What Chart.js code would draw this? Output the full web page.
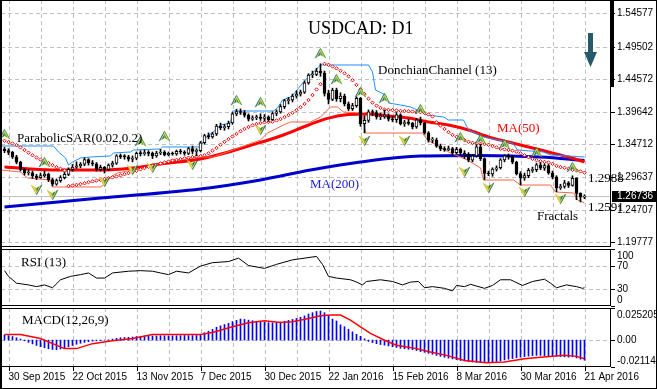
<!DOCTYPE html>
<html>
<head>
<meta charset="utf-8">
<title>USDCAD: D1</title>
<script src="https://cdn.jsdelivr.net/npm/chart.js@4.4.1/dist/chart.umd.min.js"></script>
<style>
  html, body { margin: 0; padding: 0; background: #fff; }
  #chart { position: relative; width: 657px; height: 389px; overflow: hidden; background: #fff; }
  #chart canvas { position: absolute; left: 0; }
  #frame { position: absolute; left: 0; top: 0; width: 657px; height: 389px; box-sizing: border-box;
           border: 1px solid #000; border-left-width: 2px; pointer-events: none; z-index: 10; }
</style>
</head>
<body>
<div id="chart">
  <canvas id="macdPanel" width="657" height="82" style="top:307px;z-index:1"></canvas>
  <canvas id="rsiPanel" width="657" height="59" style="top:248px;z-index:2"></canvas>
  <canvas id="pricePanel" width="657" height="250" style="top:0;z-index:3"></canvas>
  <div id="frame"></div>
</div>
<script>
// bar 0 = 29 Sep 2015 ... bar 145 = 21 Apr 2016 (daily bars)
const dateLabels = ['30 Sep 2015', '22 Oct 2015', '13 Nov 2015', '7 Dec 2015', '30 Dec 2015',
                    '22 Jan 2016', '15 Feb 2016', '8 Mar 2016', '30 Mar 2016', '21 Apr 2016'];
const dateLabelBars = [1, 17, 33, 49, 65, 81, 97, 113, 129, 145];

const firstOpen = 1.3395;
const closes = [
  1.3370,1.3345,1.3275,1.3195,1.3085,1.3030,1.3035,1.2985,1.2960,1.2990,
  1.3010,1.2930,1.2860,1.2915,1.2960,1.3010,1.3085,1.3120,1.3140,1.3165,
  1.3235,1.3185,1.3170,1.3085,1.3115,1.3085,1.3150,1.3180,1.3290,1.3280,
  1.3275,1.3240,1.3255,1.3330,1.3325,1.3335,1.3330,1.3290,1.3335,1.3350,
  1.3310,1.3330,1.3320,1.3360,1.3350,1.3330,1.3400,1.3360,1.3370,1.3490,
  1.3600,1.3580,1.3625,1.3745,1.3720,1.3735,1.3790,1.3930,1.3965,1.3950,
  1.3910,1.3850,1.3870,1.3880,1.3860,1.3885,1.3840,1.3935,1.3960,1.4040,
  1.4130,1.4140,1.4200,1.4230,1.4260,1.4400,1.4520,1.4530,1.4580,1.4550,
  1.4240,1.4150,1.4290,1.4160,1.4200,1.4080,1.4010,1.4055,1.4165,1.3780,
  1.3830,1.3960,1.3950,1.3885,1.3890,1.3900,1.3850,1.3840,1.3915,1.3780,
  1.3790,1.3785,1.3730,1.3840,1.3790,1.3640,1.3530,1.3530,1.3440,1.3400,
  1.3385,1.3400,1.3340,1.3390,1.3335,1.3320,1.3225,1.3290,1.3430,1.3250,
  1.3025,1.3015,1.3090,1.3110,1.3230,1.3290,1.3280,1.3195,1.3020,1.2955,
  1.2990,1.3070,1.3080,1.3155,1.3105,1.3145,1.3030,1.2970,1.2805,1.2825,
  1.2880,1.2840,1.2950,1.2720,1.2665,1.26736
];
const highs = [
  1.3420,1.3400,1.3360,1.3300,1.3210,1.3100,1.3080,1.3060,1.3010,1.3030,
  1.3060,1.3030,1.2950,1.2940,1.2990,1.3040,1.3110,1.3160,1.3200,1.3190,
  1.3260,1.3250,1.3220,1.3190,1.3150,1.3130,1.3170,1.3210,1.3310,1.3320,
  1.3310,1.3300,1.3290,1.3350,1.3370,1.3380,1.3370,1.3350,1.3360,1.3390,
  1.3370,1.3350,1.3350,1.3380,1.3390,1.3370,1.3420,1.3440,1.3400,1.3510,
  1.3620,1.3640,1.3650,1.3770,1.3790,1.3770,1.3820,1.3950,1.4000,1.4005,
  1.3980,1.3930,1.3900,1.3910,1.3930,1.3920,1.3900,1.3960,1.3990,1.4070,
  1.4150,1.4180,1.4230,1.4280,1.4290,1.4430,1.4540,1.4580,1.4620,1.4690,
  1.4580,1.4290,1.4320,1.4320,1.4250,1.4230,1.4110,1.4090,1.4190,1.4180,
  1.3900,1.3990,1.3990,1.3980,1.3940,1.3990,1.3930,1.3890,1.3950,1.3930,
  1.3830,1.3850,1.3800,1.3860,1.3880,1.3800,1.3660,1.3570,1.3560,1.3470,
  1.3430,1.3440,1.3420,1.3420,1.3410,1.3370,1.3340,1.3310,1.3460,1.3470,
  1.3260,1.3060,1.3110,1.3140,1.3250,1.3310,1.3320,1.3300,1.3210,1.3050,
  1.3030,1.3100,1.3120,1.3180,1.3190,1.3170,1.3160,1.3060,1.2990,1.2860,
  1.2920,1.2900,1.2988,1.2960,1.2730,1.2700
];
const lows = [
  1.3340,1.3310,1.3250,1.3170,1.3060,1.3000,1.3000,1.2950,1.2930,1.2950,
  1.2970,1.2900,1.2832,1.2845,1.2890,1.2940,1.2990,1.3060,1.3100,1.3110,
  1.3140,1.3150,1.3140,1.3060,1.3060,1.3030,1.3070,1.3120,1.3160,1.3250,
  1.3240,1.3210,1.3200,1.3230,1.3290,1.3300,1.3290,1.3250,1.3270,1.3310,
  1.3290,1.3290,1.3300,1.3300,1.3320,1.3300,1.3310,1.3320,1.3290,1.3350,
  1.3470,1.3550,1.3560,1.3600,1.3690,1.3680,1.3700,1.3770,1.3900,1.3920,
  1.3880,1.3820,1.3830,1.3840,1.3830,1.3820,1.3815,1.3830,1.3900,1.3940,
  1.4010,1.4080,1.4110,1.4170,1.4200,1.4240,1.4380,1.4480,1.4510,1.4500,
  1.4200,1.4080,1.4130,1.4120,1.4110,1.4050,1.3980,1.3980,1.4030,1.3740,
  1.3640,1.3800,1.3900,1.3850,1.3840,1.3860,1.3820,1.3810,1.3800,1.3760,
  1.3740,1.3760,1.3700,1.3710,1.3760,1.3620,1.3500,1.3490,1.3420,1.3370,
  1.3360,1.3370,1.3310,1.3320,1.3300,1.3250,1.3200,1.3200,1.3270,1.3220,
  1.2930,1.2990,1.2980,1.3060,1.3090,1.3200,1.3240,1.3170,1.3000,1.2850,
  1.2920,1.2960,1.3040,1.3050,1.3080,1.3070,1.3010,1.2940,1.2745,1.2780,
  1.2800,1.2810,1.2830,1.2625,1.2591,1.2640
];

// Parabolic SAR (0.02, 0.2), one dot per bar
const sar = [
  1.3520,1.3500,1.3480,1.3455,1.3420,1.3380,1.3340,1.3300,1.3265,1.3235,
  1.3205,1.3180,1.3150,1.3120,1.3095,1.3070,1.2832,1.2840,1.2850,1.2862,
  1.2875,1.2890,1.2903,1.2915,1.2927,1.2940,1.2952,1.2964,1.2978,1.2995,
  1.3012,1.3030,1.3047,1.3065,1.3085,1.3105,1.3125,1.3142,1.3158,1.3175,
  1.3190,1.3205,1.3218,1.3230,1.3242,1.3253,1.3263,1.3273,1.3282,1.3285,
  1.3300,1.3330,1.3370,1.3410,1.3460,1.3505,1.3545,1.3585,1.3625,1.3665,
  1.3700,1.3730,1.3755,1.3775,1.3790,1.3800,1.3805,1.3810,1.3830,1.3850,
  1.3880,1.3910,1.3945,1.3985,1.4030,1.4080,1.4140,1.4215,1.4300,1.4380,
  1.4690,1.4675,1.4650,1.4620,1.4585,1.4545,1.4500,1.4440,1.4370,1.4300,
  1.4230,1.4160,1.4100,1.4055,1.4020,1.3995,1.3990,1.3985,1.3980,1.3975,
  1.3972,1.3968,1.3964,1.3960,1.3955,1.3945,1.3920,1.3890,1.3800,1.3750,
  1.3700,1.3650,1.3610,1.3580,1.3555,1.3530,1.3505,1.3490,1.3480,1.3475,
  1.3470,1.3460,1.3440,1.3420,1.3400,1.3390,1.3380,1.3370,1.3355,1.3330,
  1.3300,1.3270,1.3245,1.3225,1.3210,1.3200,1.3190,1.3170,1.3140,1.3120,
  1.3110,1.3095,1.3080,1.3070,1.3055,1.3035
];

// moving averages and Donchian channel, [bar, price]
const ma50 = [[0,1.3120],[12,1.3076],[24,1.3076],[32,1.3107],[39,1.3167],[49,1.3243],[56,1.3350],
  [61,1.3441],[69,1.3593],[76,1.3760],[81,1.3865],[86,1.3918],[91,1.3927],[96,1.3897],[101,1.3865],
  [106,1.3806],[111,1.3760],[116,1.3684],[121,1.3578],[126,1.3502],[131,1.3426],[136,1.3350],
  [141,1.3274],[145,1.3198]];
const ma200 = [[0,1.2514],[24,1.2651],[49,1.2788],[64,1.2925],[76.5,1.3076],[89,1.3198],
  [104,1.3289],[119,1.3297],[134,1.3274],[145,1.3221]];
const donchianUpper = [[-1,1.3441],[12.25,1.3441],[13.5,1.3350],[15.25,1.3259],[16,1.3152],[17,1.3198],
  [19,1.3259],[21.5,1.3274],[26.5,1.3289],[27.25,1.3335],[31.5,1.3350],[32.25,1.3380],[39,1.3396],
  [39.5,1.3426],[49,1.3426],[49.5,1.3487],[50.25,1.3563],[52.75,1.3684],[54,1.3760],[56.5,1.3791],
  [57,1.3973],[67.25,1.3973],[68.25,1.4019],[69.5,1.4140],[71.5,1.4186],[72.75,1.4262],[74.75,1.4414],
  [76.5,1.4520],[77.75,1.4596],[79,1.4672],[91,1.4672],[92,1.4566],[92.75,1.4292],[95.25,1.4216],
  [96,1.4095],[99,1.4064],[101.5,1.4034],[103.25,1.3988],[105.75,1.3912],[109.75,1.3882],[111,1.3836],
  [114.75,1.3836],[116,1.3684],[119.75,1.3578],[123.25,1.3532],[127,1.3487],[128.25,1.3380],
  [134.75,1.3350],[136.5,1.3305],[145,1.3274]];
const donchianLower = [[-1,1.3076],[4,1.3046],[5.75,1.2955],[11.5,1.2924],[12,1.2818],[24,1.2818],
  [24.75,1.2848],[26.5,1.2970],[28.25,1.3031],[32,1.3076],[35.75,1.3122],[39,1.3152],[41.5,1.3228],
  [49,1.3274],[52.25,1.3274],[64,1.3532],[65.75,1.3638],[69.75,1.3760],[71.5,1.3806],[76.5,1.3806],
  [79,1.3882],[81.5,1.4034],[83.25,1.4034],[84.75,1.3958],[89,1.3943],[89.5,1.3912],[90.25,1.3638],
  [104.5,1.3638],[105.75,1.3532],[111.5,1.3335],[115.75,1.3228],[119,1.3107],[119.75,1.2924],
  [127.25,1.2924],[129,1.2848],[136.5,1.2848],[137.75,1.2742],[142.25,1.2727],[143.25,1.2621],
  [145,1.2575]];

// fractal markers, [bar, price of the arrow]
const fractalsUp = [[0,1.3623],[10,1.3198],[34,1.3517],[40,1.3593],[58,1.4140],[64,1.4110],
  [79,1.4854],[83,1.4459],[89,1.4262],[95,1.4170],[104,1.4003],[114,1.3578],[119,1.3548],
  [125,1.3472],[133,1.3350],[142,1.3122]];
const fractalsDown = [[8,1.2772],[12,1.2696],[25,1.2894],[32,1.3076],[37,1.3107],[47,1.3153],
  [64,1.3684],[90,1.3517],[100,1.3517],[115,1.3046],[121,1.2802],[130,1.2742],[139,1.2635]];

// RSI(13), [bar, value]
const rsi = [[0,62],[1,52],[3,40],[6,37],[8,34],[10,37],[12,32],[14,46],[16.5,52],[19,55],[21,58],
  [23,49],[25,49],[27,58],[31,61],[34,62],[37,61],[39,58],[41,55],[43,61],[46,58],[49,70],[52,76],
  [56,78],[58.5,84],[61,71],[65,66],[68,73],[72,81],[78,87],[79.5,73],[81,52],[83,49],[86.5,46],
  [88,42],[89.5,37],[90.5,43],[94,46],[97,43],[99.5,37],[101.5,42],[103.5,43],[105,32],[107,34],
  [110,31],[112,26.5],[113,36],[115,34],[116.5,38],[120,31],[122,36],[124,46],[126.5,46],
  [129.5,36],[132,43],[135,47],[136.5,40],[138,32],[140.5,37],[143,34],[144.5,31],[145,32]];

// MACD(12,26,9): histogram per bar, signal as [bar, value]
const macdHist = [
  0.0040,0.0035,0.0028,0.0018,0.0008,-0.0005,-0.0018,-0.0030,-0.0042,-0.0052,
  -0.0060,-0.0068,-0.0074,-0.0076,-0.0070,-0.0062,-0.0052,-0.0042,-0.0033,-0.0025,
  -0.0018,-0.0012,-0.0008,-0.0006,-0.0004,-0.0001,0.0002,0.0008,0.0014,0.0018,
  0.0020,0.0022,0.0024,0.0028,0.0030,0.0032,0.0033,0.0032,0.0033,0.0034,
  0.0034,0.0033,0.0033,0.0034,0.0034,0.0036,0.0035,0.0035,0.0036,0.0045,
  0.0058,0.0070,0.0085,0.0100,0.0112,0.0122,0.0132,0.0145,0.0155,0.0165,
  0.0162,0.0157,0.0152,0.0148,0.0144,0.0140,0.0137,0.0136,0.0138,0.0142,
  0.0148,0.0155,0.0162,0.0170,0.0180,0.0190,0.0205,0.0215,0.0225,0.0228,
  0.0215,0.0190,0.0165,0.0150,0.0120,0.0105,0.0085,0.0065,0.0045,0.0030,
  0.0010,-0.0010,-0.0020,-0.0028,-0.0035,-0.0040,-0.0046,-0.0052,-0.0058,-0.0064,
  -0.0068,-0.0072,-0.0075,-0.0082,-0.0090,-0.0096,-0.0104,-0.0112,-0.0120,-0.0128,
  -0.0135,-0.0142,-0.0148,-0.0154,-0.0160,-0.0164,-0.0170,-0.0172,-0.0175,-0.0176,
  -0.0178,-0.0176,-0.0172,-0.0168,-0.0162,-0.0156,-0.0150,-0.0145,-0.0138,-0.0134,
  -0.0130,-0.0126,-0.0122,-0.0120,-0.0120,-0.0122,-0.0124,-0.0125,-0.0128,-0.0130,
  -0.0132,-0.0134,-0.0132,-0.0140,-0.0150,-0.0158
];
const macdSignal = [[0,0.0044],[4,0.0044],[9,0.0012],[15,-0.0067],[18,-0.0067],[22,-0.0028],
  [26.5,-0.0007],[32,0.0012],[37,0.0044],[49,0.0044],[52,0.0060],[57,0.0104],[61,0.0136],
  [65,0.0152],[69,0.0139],[72,0.0144],[76,0.0170],[79,0.0191],[81.5,0.0197],[84,0.0197],
  [86.5,0.0157],[89,0.0104],[91.5,0.0052],[95,-0.0001],[98,-0.0041],[103,-0.0067],[106.5,-0.0094],
  [110.5,-0.0120],[115,-0.0160],[120.5,-0.0178],[125,-0.0173],[130,-0.0146],[134,-0.0134],
  [140,-0.0120],[143,-0.0128],[145,-0.0146]];

const priceTicks = [1.54577, 1.49502, 1.44572, 1.39642, 1.34712, 1.29637, 1.24707, 1.19777];
const rsiTicks = [0, 30, 70, 100];
const macdTicks = [-0.021146, 0, 0.025205];

// ---- presentation ----
const X_MIN = -0.875, X_MAX = 151.625;   // empty chart shift on the right
const GRID = '#c0c0c0';
const LABEL_FONT = '10px "Liberation Sans", Arial, sans-serif';
const NOTE_FONT = '13px "Liberation Serif", "Times New Roman", serif';

const opens = closes.map((c, i) => i === 0 ? firstOpen : closes[i - 1]);
const pts = arr => arr.map(([x, y]) => ({ x, y }));

// scales only map values; grid, ticks and labels are painted by the "axes" plugin below
const xAxis = (height) => ({
  type: 'linear', min: X_MIN, max: X_MAX, offset: false,
  afterBuildTicks: s => {
    s.ticks = [];
    for (let v = 1; v <= X_MAX; v += 8) s.ticks.push({ value: v });
  },
  afterFit: s => { s.height = height; },
  border: { display: false }, grid: { display: false, offset: false }, ticks: { display: false }
});
const yAxis = (min, max, values) => ({
  position: 'right', min, max,
  afterBuildTicks: s => { s.ticks = values.map(v => ({ value: v })); },
  afterFit: s => { s.width = 46; },
  border: { display: false }, grid: { display: false }, ticks: { display: false }
});

const axes = {
  id: 'axes',
  beforeDatasetsDraw(chart, args, opts) {
    const { ctx, chartArea: a, scales: { x, y } } = chart;
    ctx.save();
    ctx.strokeStyle = GRID;
    ctx.lineWidth = 1;
    ctx.setLineDash([4, 3]);
    ctx.beginPath();
    x.ticks.forEach(t => {
      const px = Math.round(x.getPixelForValue(t.value)) + 0.5;
      ctx.moveTo(px, a.top); ctx.lineTo(px, a.bottom);
    });
    y.ticks.forEach(t => {
      if (opts.noGrid && opts.noGrid.includes(t.value)) return;
      const py = Math.round(y.getPixelForValue(t.value)) + 0.5;
      ctx.moveTo(a.left, py); ctx.lineTo(a.right, py);
    });
    ctx.stroke();
    ctx.restore();
  },
  afterDraw(chart, args, opts) {
    const { ctx, chartArea: a, scales: { x, y } } = chart;
    ctx.save();
    ctx.strokeStyle = '#000';
    ctx.fillStyle = '#000';
    ctx.lineWidth = 1;
    ctx.font = LABEL_FONT;
    ctx.textAlign = 'left';
    ctx.beginPath();
    y.ticks.forEach(t => {
      const py = Math.round(y.getPixelForValue(t.value)) + 0.5;
      ctx.moveTo(a.right, py); ctx.lineTo(a.right + 4, py);
      const text = opts.format(t.value);
      if (t.value === y.max && opts.insetEnds) { ctx.textBaseline = 'top'; ctx.fillText(text, a.right + 6, a.top + 2); }
      else if (t.value === y.min && opts.insetEnds) { ctx.textBaseline = 'bottom'; ctx.fillText(text, a.right + 6, a.bottom - 1); }
      else { ctx.textBaseline = 'middle'; ctx.fillText(text, a.right + 6, py); }
    });
    if (opts.dates) {
      ctx.textBaseline = 'middle';
      dateLabelBars.forEach((b, k) => {
        const px = Math.round(x.getPixelForValue(b)) + 0.5;
        ctx.moveTo(px, a.bottom); ctx.lineTo(px, a.bottom + 4);
        ctx.fillText(dateLabels[k], px - 1, a.bottom + 10);
      });
    }
    ctx.stroke();
    ctx.restore();
  }
};

const panelFrame = {
  id: 'panelFrame',
  afterDraw(chart) {
    const { ctx, chartArea: a } = chart;
    ctx.save();
    ctx.strokeStyle = '#000';
    ctx.lineWidth = 1;
    ctx.strokeRect(Math.round(a.left) + 0.5, Math.round(a.top) + 0.5,
                   Math.round(a.right - a.left) - 1, Math.round(a.bottom - a.top) - 1);
    ctx.restore();
  }
};

const notes = {
  id: 'notes',
  afterDatasetsDraw(chart, args, opts) {
    const ctx = chart.ctx;
    ctx.save();
    ctx.textBaseline = 'alphabetic';
    ctx.textAlign = 'left';
    (opts.items || []).forEach(n => {
      ctx.font = n.font || NOTE_FONT;
      ctx.fillStyle = n.color || '#000';
      ctx.fillText(n.text, n.x, n.y);
    });
    ctx.restore();
  }
};

const priceExtras = {
  id: 'priceExtras',
  afterDraw(chart) {
    const { ctx, chartArea: a, scales } = chart;
    const last = closes[closes.length - 1];
    const y = Math.round(scales.y.getPixelForValue(last));
    ctx.save();
    ctx.fillStyle = '#000';
    ctx.fillRect(a.right - 1, 0, 4, 87);          // thick edge at the top of the price scale
    ctx.fillRect(a.right + 1, y - 5, 657 - a.right - 1, 11);   // last price box
    ctx.fillStyle = '#fff';
    ctx.font = LABEL_FONT;
    ctx.textBaseline = 'middle';
    ctx.fillText(last.toFixed(5), a.right + 6, y + 0.5);
    ctx.fillStyle = '#245a6a';                    // down arrow
    ctx.fillRect(588, 33, 5, 21);
    ctx.beginPath();
    ctx.moveTo(584, 52); ctx.lineTo(597, 52); ctx.lineTo(590.5, 67); ctx.closePath();
    ctx.fill();
    ctx.restore();
  }
};

function fractalIcon(up) {
  const c = document.createElement('canvas');
  c.width = 13; c.height = 12;
  const g = c.getContext('2d');
  if (!up) { g.translate(0, 12); g.scale(1, -1); }
  g.beginPath(); g.moveTo(6.5, 0.5); g.lineTo(0.5, 11.5); g.lineTo(6.5, 8); g.closePath();
  g.fillStyle = up ? '#1d6e78' : '#c9c23a'; g.fill();
  g.beginPath(); g.moveTo(6.5, 0.5); g.lineTo(12.5, 11.5); g.lineTo(6.5, 8); g.closePath();
  g.fillStyle = up ? '#4f9d3a' : '#1d6a4a'; g.fill();
  g.strokeStyle = '#e6dd4c'; g.lineWidth = 1;
  g.beginPath(); g.moveTo(6.5, 3); g.lineTo(3, 10); g.moveTo(6.5, 3); g.lineTo(10, 10); g.stroke();
  return c;
}

const common = {
  responsive: false, animation: false, events: []
};
const basePlugins = { legend: { display: false }, tooltip: { enabled: false } };

// ---- price panel ----
new Chart(document.getElementById('pricePanel'), {
  type: 'bar',
  data: {
    datasets: [
      { type: 'bar', order: 1, grouped: false, barThickness: 3, minBarLength: 1,
        data: closes.map((c, i) => ({ x: i, y: [opens[i], c] })),
        backgroundColor: closes.map((c, i) => c >= opens[i] ? '#ffffff' : '#000000'),
        borderColor: '#000', borderWidth: 1, borderSkipped: false },
      { type: 'bar', order: 2, grouped: false, barThickness: 1,
        data: closes.map((c, i) => ({ x: i, y: [lows[i], highs[i]] })),
        backgroundColor: '#000' },
      { type: 'line', order: 0, showLine: false, data: pts(fractalsUp),
        pointStyle: fractalIcon(true), pointRadius: 6 },
      { type: 'line', order: 0, showLine: false, data: pts(fractalsDown),
        pointStyle: fractalIcon(false), pointRadius: 6 },
      { type: 'line', order: 6, showLine: false, data: sar.map((v, i) => ({ x: i, y: v })),
        pointStyle: 'rectRot', pointRadius: 1.7, borderWidth: 1, borderColor: '#ff0000',
        backgroundColor: '#ffffff' },
      { type: 'line', order: 7, data: pts(donchianUpper), borderColor: '#1e90ff', borderWidth: 1,
        pointRadius: 0 },
      { type: 'line', order: 7, data: pts(donchianLower), borderColor: '#ff6347', borderWidth: 1,
        pointRadius: 0 },
      { type: 'line', order: 8, data: pts(ma50), borderColor: '#ff0000', borderWidth: 3,
        pointRadius: 0, cubicInterpolationMode: 'monotone' },
      { type: 'line', order: 9, data: pts(ma200), borderColor: '#0000cd', borderWidth: 3,
        pointRadius: 0, cubicInterpolationMode: 'monotone' },
      { type: 'line', order: 20, data: [{ x: X_MIN, y: closes[closes.length - 1] },
                                         { x: X_MAX, y: closes[closes.length - 1] }],
        borderColor: '#c0c0c0', borderWidth: 1, pointRadius: 0 }
    ]
  },
  options: {
    ...common,
    layout: { autoPadding: false, padding: { left: 1, top: 0, right: 0, bottom: 3 } },
    scales: { x: xAxis(0), y: yAxis(1.19060, 1.56598, priceTicks) },
    plugins: {
      ...basePlugins,
      axes: { format: v => v.toFixed(5) },
      notes: { items: [
        { text: 'USDCAD: D1', x: 308, y: 34, font: '18px "Liberation Serif", "Times New Roman", serif' },
        { text: 'DonchianChannel (13)', x: 378, y: 74 },
        { text: 'ParabolicSAR(0.02,0.2)', x: 17, y: 142 },
        { text: 'MA(50)', x: 497, y: 132, color: '#ff0000' },
        { text: 'MA(200)', x: 310, y: 188, color: '#2020e0' },
        { text: '1.2988', x: 588, y: 182 },
        { text: '1.2591', x: 588, y: 211 },
        { text: 'Fractals', x: 537, y: 220 }
      ] }
    }
  },
  plugins: [axes, notes, panelFrame, priceExtras]
});

// ---- RSI panel ----
new Chart(document.getElementById('rsiPanel'), {
  type: 'line',
  data: { datasets: [{ data: pts(rsi), borderColor: '#000', borderWidth: 1, pointRadius: 0 }] },
  options: {
    ...common,
    layout: { autoPadding: false, padding: { left: 1, top: 1, right: 0, bottom: 1 } },
    scales: { x: xAxis(0), y: yAxis(0, 100, rsiTicks) },
    plugins: {
      ...basePlugins,
      axes: { format: v => String(v), insetEnds: true, noGrid: [0, 100] },
      notes: { items: [{ text: 'RSI (13)', x: 21, y: 18 }] }
    }
  },
  plugins: [axes, notes, panelFrame]
});

// ---- MACD panel ----
new Chart(document.getElementById('macdPanel'), {
  type: 'bar',
  data: {
    datasets: [
      { type: 'line', order: 0, data: pts(macdSignal), borderColor: '#ff0000', borderWidth: 1.5,
        pointRadius: 0 },
      { type: 'bar', order: 1, grouped: false, barThickness: 1,
        data: macdHist.map((v, i) => ({ x: i, y: v })), backgroundColor: '#0000ff' }
    ]
  },
  options: {
    ...common,
    layout: { autoPadding: false, padding: { left: 1, top: 1, right: 0, bottom: 0 } },
    scales: { x: xAxis(22), y: yAxis(-0.021146, 0.025205, macdTicks) },
    plugins: {
      ...basePlugins,
      axes: { format: v => v === 0 ? '0.00' : String(v), insetEnds: true,
              noGrid: [-0.021146, 0.025205], dates: true },
      notes: { items: [{ text: 'MACD(12,26,9)', x: 22, y: 17 }] }
    }
  },
  plugins: [axes, notes, panelFrame]
});
</script>
</body>
</html>
